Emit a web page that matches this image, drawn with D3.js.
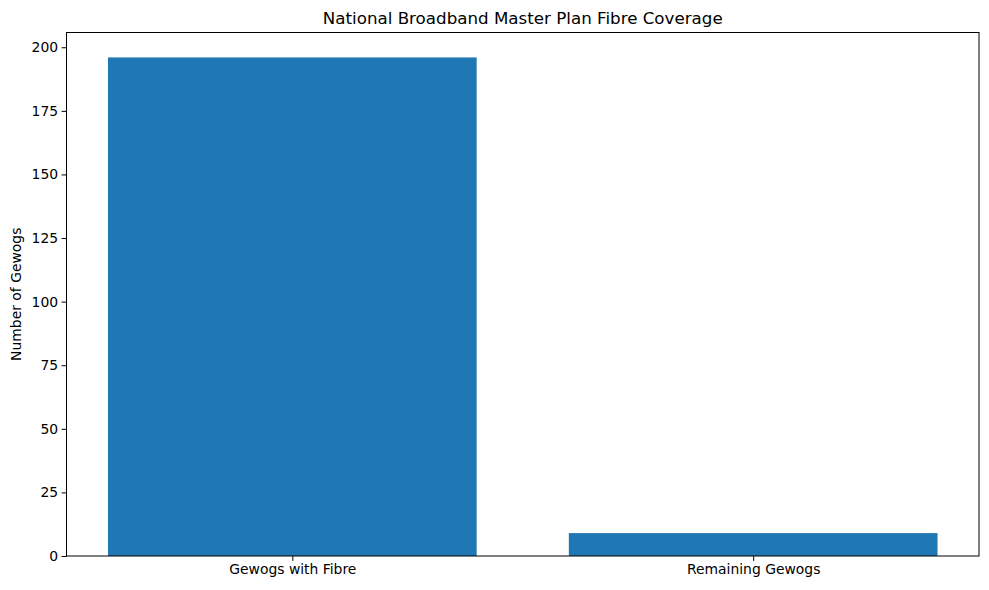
<!DOCTYPE html>
<html>
<head>
<meta charset="utf-8">
<script src="https://cdn.jsdelivr.net/npm/d3@7"></script>
<style>
  body { margin: 0; background: #fff; }
  svg text { font-family: "DejaVu Sans", sans-serif; }
  .axis text { font-size: 13.9px; fill: #000; }
  .axis path, .axis line { stroke: #000; stroke-width: 1; }
</style>
</head>
<body>
<div class="chart"></div>
<script>
// data
const categories = ["Gewogs with Fibre", "Remaining Gewogs"]
const gewogs = [196, 9]
const yTicks = [0, 25, 50, 75, 100, 125, 150, 175, 200]

const width = 989, height = 590
const padding = {left: 66.5, right: 10, top: 32.5, bottom: 34}
const plotW = width - padding.left - padding.right
const plotH = height - padding.top - padding.bottom

const svg = d3.select(".chart").append("svg").attr("width", width).attr("height", height)

// matplotlib-like margins: bars are 0.8 wide at positions 0,1 with 5% padding
const xScale = d3.scaleLinear().domain([-0.49, 1.49]).range([0, plotW])
const yScale = d3.scaleLinear().domain([0, 196 * 1.05]).range([plotH, 0])

const g = svg.append("g").attr("transform", "translate(" + padding.left + "," + padding.top + ")")

g.selectAll("rect")
  .data(gewogs)
  .enter()
  .append("rect")
  .attr("x", (d, i) => xScale(i - 0.4))
  .attr("width", (d, i) => xScale(i + 0.4) - xScale(i - 0.4))
  .attr("y", d => yScale(d))
  .attr("height", d => yScale(0) - yScale(d))
  .attr("fill", "#1f77b4")

g.append("g")
  .attr("class", "axis")
  .call(d3.axisLeft(yScale).tickValues(yTicks).tickSize(4.9).tickPadding(3.5).tickSizeOuter(0))
  .select(".domain").remove()

g.append("g")
  .attr("class", "axis")
  .attr("transform", "translate(0," + plotH + ")")
  .call(d3.axisBottom(xScale).tickValues([0, 1]).tickFormat((d, i) => categories[i]).tickSize(4.9).tickPadding(3.5).tickSizeOuter(0))
  .select(".domain").remove()

// frame
g.append("rect")
  .attr("width", plotW).attr("height", plotH)
  .attr("fill", "none").attr("stroke", "#000").attr("stroke-width", 1)

svg.append("text")
  .attr("x", padding.left + plotW / 2).attr("y", padding.top - 8.3)
  .attr("text-anchor", "middle").attr("font-size", 16.7)
  .text("National Broadband Master Plan Fibre Coverage")

svg.append("text")
  .attr("transform", "translate(21," + (padding.top + plotH / 2) + ") rotate(-90)")
  .attr("text-anchor", "middle").attr("font-size", 13.9)
  .text("Number of Gewogs")
</script>
</body>
</html>
